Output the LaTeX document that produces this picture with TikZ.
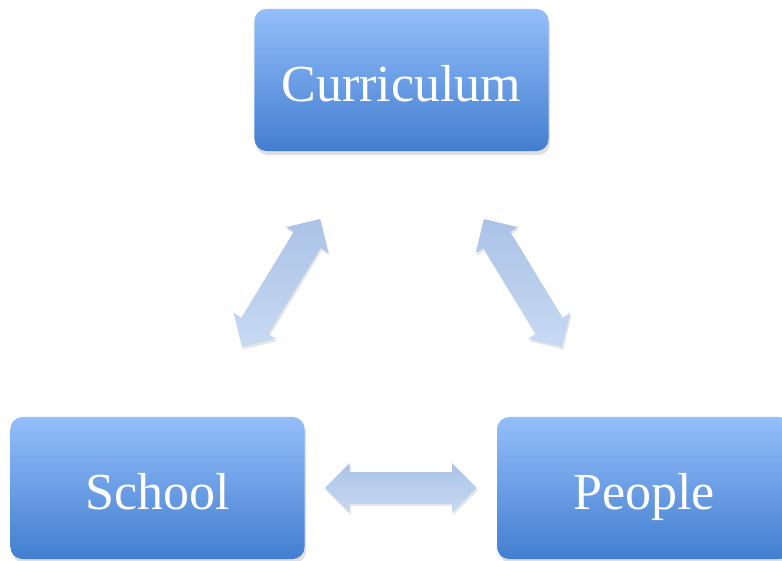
\documentclass[tikz,border=0pt]{standalone}
\usepackage{fontspec}
\setmainfont{Liberation Serif}
\usetikzlibrary{positioning,calc,shapes.arrows,shadows}
\definecolor{boxtop}{RGB}{148,190,250}
\definecolor{boxbot}{RGB}{66,126,208}
\definecolor{arrtop}{RGB}{170,194,230}
\definecolor{arrbot}{RGB}{200,218,243}

\begin{document}
\begin{tikzpicture}[x=0.025cm,y=-0.025cm,
			box/.style={rectangle,rounded corners=0.3cm,minimum width=7.35cm,minimum height=3.55cm,
				top color=boxtop,bottom color=boxbot,draw=none,text=white,
				text height=1.06cm,text depth=0cm,
				font=\fontsize{37}{40}\selectfont,
				drop shadow={shadow xshift=0.04cm,shadow yshift=-0.1cm,opacity=0.25}},
			biarrow/.style={double arrow,inner xsep=0pt,inner ysep=0.3875cm,minimum width=1.225cm,
				minimum height=3.8cm,double arrow head extend=0.225cm,
				top color=arrtop,bottom color=arrbot,draw=none,
				drop shadow={shadow xshift=0.03cm,shadow yshift=-0.06cm,opacity=0.2}}]
			\useasboundingbox (0,0) rectangle (782,560);
			\clip (0,0) rectangle (782,560);
			\node (curr) [box] at (401.5,80) {Curriculum};
			\node (school) [box] at (157.5,488) {School};
			\node (people) [box,right=4.8cm of school] {People};
			% links between the three
			\node (sp) [biarrow] at ($(school.east)!0.5!(people.west)$) {};
			\node (cs) [biarrow,minimum height=3.75cm,rotate=58.6] at (281,283) {};
			\node (cp) [biarrow,minimum height=3.75cm,rotate=-58.6] at (523,283) {};
		\end{tikzpicture}
\end{document}
